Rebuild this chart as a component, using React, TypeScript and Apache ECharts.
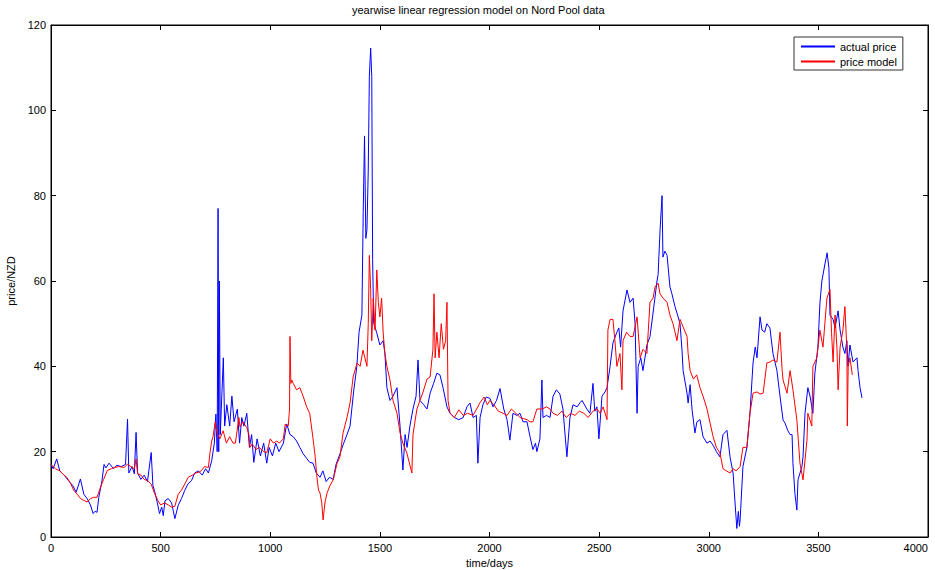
import React, { useEffect, useRef } from "react";
import * as echarts from "echarts";

const titleText = "yearwise linear regression model on Nord Pool data";
const xName = "time/days";
const yName = "price/NZD";
const seriesNames = ["actual price", "price model"];
const seriesColors = ["#0000ff", "#ff0000"];

const actualDays = [
  0, 10, 26, 40, 60, 80, 100, 115, 134, 150, 165, 180, 192, 200, 210, 218, 232, 242, 250, 265,
  285, 300, 320, 340, 349, 355, 370, 380, 388, 395, 410, 425, 440, 457, 465, 472, 485, 495, 505, 512,
  520, 535, 550, 565, 580, 595, 610, 625, 641, 655, 672, 690, 705, 718, 733, 745, 752, 758, 762, 765,
  768, 772, 786, 792, 802, 815, 825, 835, 850, 860, 870, 880, 893, 905, 915, 925, 940, 955, 970, 984,
  995, 1010, 1025, 1040, 1060, 1075, 1090, 1105, 1120, 1135, 1150, 1165, 1180, 1195, 1210, 1227, 1240, 1255, 1270, 1287,
  1300, 1318, 1335, 1350, 1364, 1380, 1395, 1405, 1418, 1424, 1430, 1436, 1441, 1447, 1452, 1458, 1463, 1467, 1472, 1485,
  1500, 1515, 1523, 1532, 1546, 1560, 1578, 1592, 1605, 1615, 1624, 1637, 1651, 1665, 1674, 1683, 1700, 1715, 1729, 1745,
  1760, 1774, 1788, 1806, 1820, 1840, 1860, 1880, 1897, 1911, 1925, 1940, 1947, 1957, 1970, 1985, 2002, 2016, 2032, 2048,
  2065, 2080, 2093, 2107, 2125, 2139, 2153, 2171, 2185, 2198, 2210, 2216, 2230, 2239, 2244, 2260, 2276, 2290, 2305, 2321,
  2335, 2353, 2367, 2381, 2400, 2413, 2422, 2444, 2458, 2472, 2480, 2490, 2499, 2513, 2527, 2536, 2550, 2563, 2581, 2590,
  2598, 2609, 2627, 2641, 2655, 2664, 2673, 2678, 2690, 2700, 2718, 2732, 2746, 2764, 2769, 2778, 2787, 2791, 2800, 2810,
  2823, 2832, 2846, 2855, 2869, 2878, 2883, 2901, 2906, 2915, 2924, 2937, 2946, 2960, 2974, 2992, 3006, 3020, 3035, 3051,
  3065, 3083, 3097, 3111, 3120, 3128, 3135, 3140, 3143, 3156, 3174, 3188, 3202, 3212, 3220, 3234, 3243, 3255, 3265, 3279,
  3293, 3311, 3325, 3339, 3348, 3360, 3371, 3380, 3384, 3393, 3402, 3407, 3425, 3430, 3439, 3452, 3462, 3475, 3484, 3498,
  3507, 3516, 3530, 3540, 3548, 3553, 3567, 3576, 3590, 3599, 3612, 3621, 3630, 3635, 3644, 3658, 3676, 3681, 3690, 3699,
];
const actualPrice = [
  17, 16, 18.3, 15.5, 14.5, 13.2, 12, 10.5, 13.6, 10, 9, 7.5, 5.5, 6, 5.8, 9.3, 13, 17, 16.2, 17.3,
  16, 16.8, 16.5, 17, 27.6, 15, 16.5, 14.8, 24.5, 15, 13.5, 14.5, 13, 19.8, 12, 10.9, 8, 5.5, 7, 5,
  8.5, 9, 8, 4.3, 7.4, 9, 10.9, 12.5, 13.2, 15, 15.5, 14.5, 16, 15, 17.9, 22, 28.8, 20, 77, 20,
  60, 24, 42, 26, 31, 26, 33, 27, 30, 22, 28, 26, 29, 21, 24, 17.5, 23, 19, 22, 17.3,
  21, 19, 22, 20, 22, 26.5, 24, 23.5, 22.5, 21, 19.5, 18.5, 17.5, 17.3, 15, 14, 15.5, 13, 14, 13.5,
  17, 19.5, 22, 24, 26, 34, 40, 48, 52, 76, 94, 70, 72, 86, 108, 114.6, 108, 65, 50, 48,
  45, 46, 43, 35, 32, 33, 35, 26, 15.7, 24, 21, 26, 30, 33, 41.5, 32, 31, 30, 33.7, 36,
  38.4, 38, 35, 30.5, 29, 28, 27.5, 28, 30.5, 31.4, 28, 28.5, 17.3, 28, 31, 32.8, 32.5, 30.5, 32, 34.8,
  30, 27.5, 22.7, 29, 28.5, 29, 27, 27, 23.5, 20.5, 22, 20, 23, 36.8, 28, 28.5, 28, 33, 34.5, 33.5,
  30, 18.8, 28, 31, 30.5, 31.5, 32, 30, 29, 36, 29.5, 30.5, 23, 33, 34, 35, 40, 45.5, 48, 49,
  44.5, 53, 57.9, 55, 56, 50, 29, 40, 42, 39, 45, 47, 52.5, 60, 61.5, 72, 80, 65.6, 67, 66,
  58.6, 57, 54, 52.5, 50, 43.8, 39, 33.7, 31.4, 35.7, 29.8, 24.4, 27, 27.5, 23.5, 22, 22.5, 21.5, 20, 18.8,
  24, 25, 18.8, 15, 8, 2, 6, 2.5, 4, 16.5, 21, 29, 40.8, 44.5, 42, 51.6, 48.5, 48, 50, 49,
  43, 39, 33, 27.4, 26.7, 25, 24, 24, 17.3, 10.2, 6.3, 13.4, 16.5, 18.8, 29, 35, 33, 29, 38.4, 44.5,
  54.8, 60, 64, 66.6, 63, 52, 51, 49, 53, 48.5, 44.5, 43, 46, 40, 45, 41, 42, 39, 35, 32.6,
];

const modelDays = [
  0, 20, 40, 60, 72, 90, 103, 120, 135, 149, 165, 180, 195, 210, 226, 240, 257, 275, 288, 310,
  334, 349, 365, 380, 388, 395, 410, 425, 441, 457, 470, 487, 500, 518, 535, 550, 565, 580, 595, 610,
  626, 645, 660, 675, 687, 700, 718, 725, 733, 739, 749, 757, 770, 785, 800, 815, 830, 841, 857, 862,
  875, 893, 903, 907, 918, 935, 950, 965, 984, 1000, 1015, 1030, 1041, 1060, 1068, 1082, 1088, 1090, 1094, 1098,
  1105, 1120, 1135, 1150, 1166, 1180, 1196, 1205, 1213, 1220, 1227, 1235, 1241, 1250, 1259, 1272, 1287, 1305, 1318, 1332,
  1350, 1364, 1378, 1396, 1410, 1423, 1441, 1447, 1452, 1458, 1463, 1470, 1478, 1486, 1493, 1500, 1508, 1515, 1523, 1532,
  1546, 1560, 1578, 1592, 1605, 1623, 1646, 1651, 1669, 1683, 1697, 1715, 1729, 1742, 1747, 1752, 1760, 1770, 1780, 1790,
  1800, 1806, 1811, 1820, 1840, 1860, 1880, 1900, 1925, 1957, 1975, 1990, 2002, 2020, 2040, 2062, 2080, 2100, 2120, 2140,
  2171, 2185, 2198, 2216, 2240, 2260, 2276, 2290, 2310, 2330, 2350, 2370, 2390, 2410, 2430, 2450, 2472, 2490, 2505, 2518,
  2536, 2540, 2550, 2563, 2572, 2581, 2595, 2604, 2609, 2625, 2641, 2655, 2673, 2687, 2700, 2718, 2732, 2746, 2755, 2769,
  2778, 2791, 2810, 2823, 2837, 2855, 2869, 2885, 2901, 2906, 2915, 2930, 2945, 2960, 2974, 2992, 3006, 3020, 3035, 3051,
  3065, 3080, 3097, 3111, 3125, 3143, 3156, 3174, 3188, 3202, 3220, 3234, 3248, 3265, 3279, 3293, 3311, 3325, 3334, 3339,
  3357, 3371, 3384, 3402, 3416, 3430, 3448, 3452, 3470, 3475, 3493, 3507, 3521, 3539, 3553, 3560, 3567, 3576, 3585, 3590,
  3599, 3612, 3621, 3630, 3632, 3636, 3644, 3655,
];
const modelPrice = [
  17, 16, 15.5, 14.5, 14, 12.5, 11, 10, 9, 8.6, 8.2, 9, 9.3, 9.3, 11.7, 13.5, 15.6, 16, 16.3, 16.5,
  16.3, 17.1, 16.5, 16, 18.3, 14.8, 14.5, 13.5, 13.2, 12.4, 10.5, 8.6, 7.5, 8, 7.5, 7, 7.2, 10, 11, 12.4,
  14, 14.5, 15, 15.2, 15.6, 16.5, 16.3, 19.7, 22.5, 23.5, 27, 24.4, 23, 24.9, 22, 23.5, 22, 22, 28, 25.8,
  27, 25.6, 24, 21, 21.8, 20.5, 21, 20.2, 19.7, 23, 22, 22.5, 22, 23, 26.4, 26, 30, 47, 36, 36.8,
  36, 34.5, 35, 33, 30.5, 29, 22.7, 18.8, 14, 11, 10.3, 8, 4, 8.2, 10.3, 12, 13.4, 17.3, 18.8, 24.4,
  28, 31.4, 37.5, 40.8, 40, 43.8, 40, 50, 66, 58, 46, 56, 48.5, 62.6, 55, 51.6, 56, 47.8, 43, 40,
  36.8, 32, 29, 24.4, 22, 19.7, 15, 24, 30, 32, 34, 37, 37.5, 44, 57, 42, 48, 42, 50, 44,
  46, 55, 32, 29, 28, 29.8, 28.5, 29, 28.5, 31.5, 32.8, 31, 32, 31, 29.5, 29, 28.5, 30, 29, 28,
  27.5, 27, 27, 30, 30, 30.5, 30, 29, 28.5, 29.5, 28, 29, 28.5, 29.5, 29, 28, 29.5, 30, 29, 30.5,
  27.5, 48.5, 51, 51, 46, 40, 43, 34.5, 46, 48, 47, 47, 51.6, 42, 44, 43, 55, 56, 58.6, 59.5,
  57, 56, 55, 52, 50, 46, 51, 49, 47, 43, 39, 37, 38, 35, 33, 30, 26.7, 23.5, 21, 19.7,
  16, 15.5, 15, 16, 15.5, 16.5, 21, 21, 29, 33.7, 34, 33.5, 33.7, 40.8, 41, 41.5, 41, 48, 39.6, 36.8,
  33.7, 39, 34.5, 27.4, 17.3, 13.4, 22.7, 29, 26, 40, 42, 48.5, 44.5, 56, 58, 48, 41, 52, 44, 34.5,
  44.5, 48.5, 54, 44, 26, 40, 42, 38,
];

const FONT = "'Liberation Sans', Arial, Helvetica, sans-serif";

export default function App() {
  const ref = useRef<HTMLDivElement>(null);

  useEffect(() => {
    if (!ref.current) return;
    const chart = echarts.init(ref.current, null, { renderer: "svg" });
    const axisCommon = {
      type: "value" as const,
      axisLine: { show: true, onZero: false, lineStyle: { color: "#000", width: 1 } },
      axisTick: { show: true, inside: true, length: 5, lineStyle: { color: "#000" } },
      splitLine: { show: false },
    };
    const labelStyle = { color: "#000", fontSize: 11, fontFamily: FONT };
    chart.setOption({
      animation: false,
      backgroundColor: "#fff",
      title: {
        text: titleText,
        left: 352,
        top: 4,
        padding: 0,
        textStyle: { fontSize: 11, fontWeight: "normal", color: "#000", fontFamily: FONT },
      },
      legend: {
        data: seriesNames.map((n, i) => ({
          name: n,
          icon: "rect",
          itemStyle: { color: seriesColors[i], borderWidth: 0, opacity: 1 },
        })),
        orient: "vertical",
        left: 794,
        top: 37,
        padding: [4, 6, 3, 7],
        itemGap: 4,
        itemWidth: 34,
        itemHeight: 2,
        backgroundColor: "#fff",
        borderColor: "#333",
        borderWidth: 1,
        borderRadius: 0,
        textStyle: labelStyle,
      },
      grid: {
        left: 51,
        right: 7,
        top: 25,
        bottom: 33,
        show: true,
        borderColor: "#000",
        borderWidth: 1,
        backgroundColor: "#fff",
        outerBoundsMode: "none",
        containLabel: false,
      },
      xAxis: [
        {
          ...axisCommon,
          min: 0,
          max: 4000,
          interval: 500,
          position: "bottom",
          axisLabel: {
            ...labelStyle,
            margin: 5,
            alignMaxLabel: "right",
            formatter: (v: number) => String(v),
          },
          name: xName,
          nameLocation: "middle",
          nameGap: 19,
          nameTextStyle: labelStyle,
        },
        {
          ...axisCommon,
          min: 0,
          max: 4000,
          interval: 500,
          position: "top",
          axisLabel: { show: false },
        },
      ],
      yAxis: [
        {
          ...axisCommon,
          min: 0,
          max: 120,
          interval: 20,
          position: "left",
          axisLabel: { ...labelStyle, margin: 5, formatter: (v: number) => String(v) },
          name: yName,
          nameLocation: "middle",
          nameRotate: 90,
          nameGap: 27,
          nameTextStyle: labelStyle,
        },
        {
          ...axisCommon,
          min: 0,
          max: 120,
          interval: 20,
          position: "right",
          axisLabel: { show: false },
        },
      ],
      series: [
        {
          name: seriesNames[0],
          type: "line",
          xAxisIndex: 0,
          yAxisIndex: 0,
          data: actualDays.map((d, i) => [d, actualPrice[i]]),
          showSymbol: false,
          symbol: "none",
          lineStyle: { width: 1, color: seriesColors[0] },
          itemStyle: { color: seriesColors[0] },
        },
        {
          name: seriesNames[1],
          type: "line",
          xAxisIndex: 0,
          yAxisIndex: 0,
          data: modelDays.map((d, i) => [d, modelPrice[i]]),
          showSymbol: false,
          symbol: "none",
          lineStyle: { width: 1, color: seriesColors[1] },
          itemStyle: { color: seriesColors[1] },
        },
      ],
    });
    return () => chart.dispose();
  }, []);

  return (
    <div
      ref={ref}
      style={{ position: "fixed", left: 0, top: 0, width: 935, height: 570, background: "#fff" }}
    />
  );
}
